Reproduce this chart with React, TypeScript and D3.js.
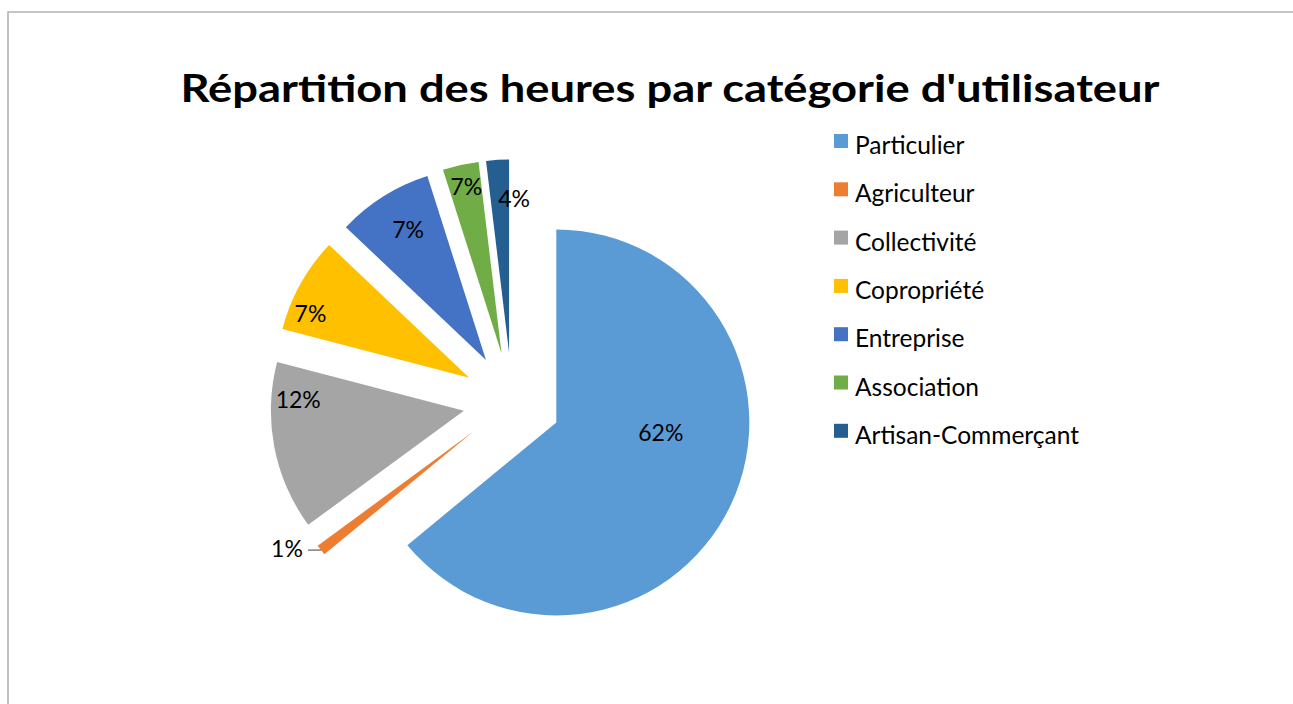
import React from "react";
import * as d3 from "d3";

const categories = ["Particulier", "Agriculteur", "Collectivité", "Copropriété", "Entreprise", "Association", "Artisan-Commerçant"];
const sliceValues = [63.9, 0.9, 14.1, 8.0, 8.0, 3.0, 1.9];
const labelTexts = ["62%", "1%", "12%", "7%", "7%", "7%", "4%"];
const colors = ["#5B9BD5", "#ED7D31", "#A5A5A5", "#FFC000", "#4472C4", "#70AD47", "#255E91"];
const title = "Répartition des heures par catégorie d'utilisateur";

// layout
const W = 1293, H = 704;
const CX = 512, CY = 401.5, R = 193, EXPLODE = 49;
// label placement relative to each exploded slice apex: [angle deg, distance]
const labelPlace: [number, number][] = [
  [95.5, 105], [237.9, 220], [273.7, 166], [291.9, 171], [329.2, 152], [348.1, 170.5], [1.9, 154],
];
const FONT = "Lato, 'Noto Sans', sans-serif";

export default function App() {
  const pie = d3.pie<number>().sort(null).startAngle(0).endAngle(2 * Math.PI);
  const arcs = pie(sliceValues);
  const arc = d3.arc<d3.PieArcDatum<number>>().innerRadius(0).outerRadius(R);
  const rad = (deg: number) => (deg * Math.PI) / 180;

  return (
    <svg width={W} height={H} style={{ position: "absolute", left: 0, top: 0, background: "#fff" }}>
      <rect x={0} y={0} width={W} height={H} fill="#fff" />
      <path d={`M8,${H} L8,12 L${W},12`} fill="none" stroke="#B3B3B3" strokeWidth={1.6} />
      <text x={670} y={102} textAnchor="middle" fontFamily={FONT} fontWeight={700} fontSize={38} fill="#000" textLength={979} lengthAdjust="spacingAndGlyphs">
        {title}
      </text>
      {arcs.map((a, i) => {
        const mid = (a.startAngle + a.endAngle) / 2;
        const ax = CX + EXPLODE * Math.sin(mid);
        const ay = CY - EXPLODE * Math.cos(mid);
        const [la, ld] = labelPlace[i];
        const lx = ax + ld * Math.sin(rad(la));
        const ly = ay - ld * Math.cos(rad(la));
        const isOutside = i === 1;
        const ox = ax + R * Math.sin(mid);
        const oy = ay - R * Math.cos(mid);
        return (
          <g key={categories[i]}>
            <path d={arc(a) || ""} transform={`translate(${ax},${ay})`} fill={colors[i]} />
            {isOutside && (
              <line x1={lx + 21} y1={oy} x2={ox} y2={oy} stroke="#404040" strokeWidth={1} />
            )}
            <text x={lx} y={ly} dy="0.36em" textAnchor="middle" fontFamily={FONT} fontSize={23} fill="#000">
              {labelTexts[i]}
            </text>
          </g>
        );
      })}
      {categories.map((c, i) => {
        const y = 134 + i * 48.3;
        return (
          <g key={"lg" + c}>
            <rect x={834} y={y} width={14} height={14} fill={colors[i]} />
            <text x={855} y={y + 20} fontFamily={FONT} fontSize={24.5} fill="#000">
              {c}
            </text>
          </g>
        );
      })}
    </svg>
  );
}
